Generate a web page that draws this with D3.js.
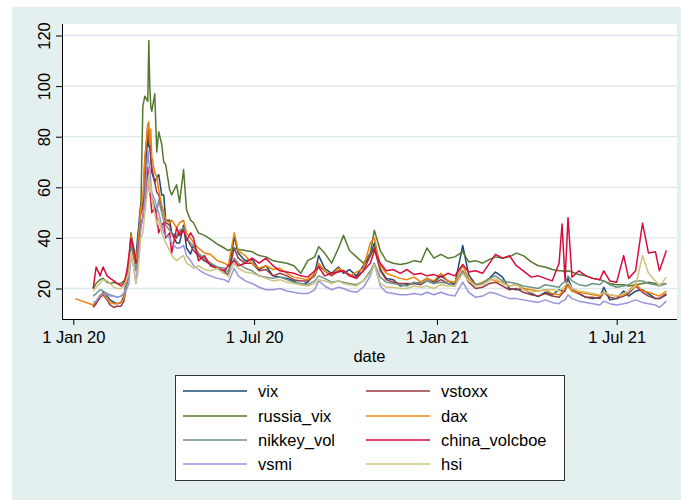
<!DOCTYPE html>
<html>
<head>
<meta charset="utf-8">
<script src="https://cdn.jsdelivr.net/npm/d3@7"></script>
<style>
  html, body { margin: 0; padding: 0; background: #fff; }
  svg { display: block; font-family: "Liberation Sans", Arial, Helvetica, sans-serif; }
</style>
</head>
<body>
<svg id="chart" width="681" height="500"></svg>
<script>
// Observation dates (daily implied volatility indices)
const dates = [
  "2020-01-03",
  "2020-01-21","2020-01-24","2020-01-28","2020-01-31","2020-02-04","2020-02-07","2020-02-11","2020-02-14","2020-02-18","2020-02-21",
  "2020-02-24","2020-02-26","2020-02-28","2020-03-02","2020-03-04","2020-03-06","2020-03-09","2020-03-11","2020-03-13","2020-03-16",
  "2020-03-17","2020-03-18","2020-03-19","2020-03-20","2020-03-23","2020-03-25","2020-03-27","2020-03-30","2020-04-01","2020-04-03",
  "2020-04-07","2020-04-09","2020-04-14","2020-04-17","2020-04-21","2020-04-24","2020-04-28","2020-05-01",
  "2020-05-06","2020-05-12","2020-05-18","2020-05-25","2020-06-01","2020-06-05","2020-06-11","2020-06-15","2020-06-22","2020-06-29",
  "2020-07-06","2020-07-13","2020-07-20","2020-07-27","2020-08-03","2020-08-10","2020-08-17","2020-08-24","2020-08-31","2020-09-04",
  "2020-09-10","2020-09-17","2020-09-24","2020-09-29","2020-10-05","2020-10-12","2020-10-19","2020-10-26","2020-10-30","2020-11-05",
  "2020-11-11","2020-11-18","2020-11-25","2020-12-02","2020-12-09","2020-12-16","2020-12-22","2020-12-29","2021-01-05","2021-01-12",
  "2021-01-19","2021-01-27","2021-02-02","2021-02-09","2021-02-16","2021-02-23","2021-03-01","2021-03-08","2021-03-15","2021-03-22",
  "2021-03-29","2021-04-06","2021-04-13","2021-04-20","2021-04-27","2021-05-04","2021-05-07","2021-05-10","2021-05-13","2021-05-17",
  "2021-05-24","2021-05-31","2021-06-07","2021-06-14","2021-06-18","2021-06-24","2021-07-01","2021-07-08","2021-07-13","2021-07-20",
  "2021-07-27","2021-08-02","2021-08-09","2021-08-13","2021-08-20"
];

const vix = [
  null,
  13, 14.5, 16.5, 18.5, 17, 15.5, 14.5, 14, 14.5, 17,
  25, 27.5, 40, 33, 32, 41, 54, 53, 58, 82, 76, 76, 72, 66, 62, 64, 65, 57, 57, 47, 47, 42, 38, 38, 45, 36, 33.6, 37,
  33, 31, 29.5, 28, 27, 25, 40.5, 34, 31, 31.5, 27.5, 29, 25, 24.5, 24, 23, 21.5, 22.5, 26, 33,
  28, 26, 28.5, 26, 27.5, 25, 29, 33, 38, 27.5, 24, 23.5, 21, 21.5, 22, 22.5, 24, 22.5, 25, 23,
  21.5, 37, 25.5, 21.5, 22, 24, 26.5, 24.5, 20, 19.5, 20, 18, 16.8, 18.5, 17.5, 19.5, 19, 19.5, 24, 20,
  18, 16.5, 16, 16.5, 20.5, 15.5, 16, 19, 17, 19, 19.5, 18, 16, 16, 17.5
];

const vstoxx = [
  null,
  12.5, 14, 16.5, 17.5, 15.5, 13.5, 12.5, 13, 13, 15,
  22, 26, 38, 32, 30, 38, 50, 52, 70, 85, 78, 80, 72, 68, 62, 58, 57, 52, 50, 46, 45, 42, 40, 42, 44, 40, 37, 35,
  33, 31, 30, 28, 26, 25.5, 36, 32, 30, 30, 27, 27.5, 25, 26, 25, 23.5, 23, 23, 25, 29,
  27, 25, 27, 27, 25.5, 24.5, 27, 33, 36, 27, 23.5, 22.5, 22, 22, 22, 21.5, 23, 22, 23.5, 22,
  21, 27, 22.5, 20, 20.5, 22, 22.5, 21, 19.5, 20, 18.5, 17.5, 17, 18, 17, 16.5, 18, 19, 22, 19,
  18, 16.5, 16.5, 16, 18.5, 16.5, 16, 17, 18, 21, 18.5, 17, 16, 16, 18
];

const russia_vix = [
  null,
  20, 22, 23.5, 24, 22.5, 22, 22.5, 22, 22, 23,
  24, 30, 42, 36, 30, 38, 52, 92, 96, 94, 118, 100, 92, 90, 97, 74, 82, 77, 70, 69, 59, 57, 61, 54, 67, 51, 47, 46,
  42, 41, 39.5, 37.5, 36, 35, 36, 35.5, 35, 34.5, 33, 32.5, 31, 30.5, 30, 29, 26, 31, 32.5, 36.5,
  34, 30, 36, 41, 35, 32.5, 30, 34, 43, 35, 31, 30, 29.5, 30, 31, 30.5, 36, 32, 33.5, 32,
  32.5, 34.5, 30.5, 31, 30, 31.5, 32.5, 32, 32.5, 34, 33, 30.5, 29, 28.5, 27.5, 27, 27, 26.5, 27, 26.5,
  25.5, 25, 24, 23.5, 23, 22, 21.5, 21.5, 21, 21.5, 22, 22.5, 22, 21.5, 22
];

const dax = [
  16,
  13.5, 15, 17.5, 18, 16, 14.5, 14, 14, 14.5, 16,
  25, 28, 41, 33, 30, 36, 52, 56, 72, 84, 86, 77, 83, 72, 66, 64, 59, 53, 50, 47, 46, 47, 44, 46, 47, 42, 40, 38,
  36, 34, 33.5, 31, 30, 29, 42, 35, 33, 30, 28, 29, 27.5, 28, 26, 24.5, 24, 23.5, 25.5, 30,
  27, 25.5, 28, 27, 25, 26.5, 28, 38, 40, 29, 26, 25, 24, 23.5, 24.5, 22.5, 24, 23, 26, 23,
  22.5, 29, 24, 21.5, 22.5, 24, 23, 22.5, 21, 21.5, 20, 19.5, 19, 19.5, 18, 17.5, 18.5, 20, 21, 19,
  18.5, 18, 17.5, 17, 18.5, 17.5, 17, 17.5, 19, 22, 19, 18.5, 17.5, 17, 19
];

const nikkey_vol = [
  null,
  17, 18, 19.5, 19, 18, 17.5, 17, 16.5, 17, 18,
  22, 25, 38, 33, 27, 32, 45, 48, 55, 60, 62, 60, 58, 56, 52, 50, 55, 50, 47, 45, 43, 42, 41, 43, 44, 40, 38, 37,
  34, 32, 30, 28.5, 28, 26.5, 32, 30, 28, 27, 25, 24.5, 24, 24.5, 23.5, 22.5, 22, 21.5, 23, 25,
  24, 22.5, 23, 22.5, 22, 21.5, 23, 27, 30, 24.5, 22.5, 22, 21.5, 21, 22.5, 22, 23, 22, 22.5, 22,
  21, 27, 23, 21.5, 22, 24, 25, 23, 22.5, 22, 21, 20.5, 20, 21.5, 21, 20.5, 22, 22.5, 25, 23,
  21.5, 21, 22, 21.5, 23, 21.5, 20.5, 21, 21.5, 23, 23, 22, 21.5, 21, 22
];

const china_volcboe = [
  null,
  20, 28.5, 25, 28.5, 25, 24, 23, 22, 21, 22,
  27, 33, 40, 35, 30, 32, 45, 48, 55, 68, 60, 58, 55, 50, 52, 48, 42, 45, 46, 40, 42, 34, 44, 41, 43, 39, 42, 40,
  31, 33, 29, 28, 27, 29, 31, 29, 30, 32, 30, 32, 29, 27, 26.5, 26, 25, 24.5, 27, 28.5,
  25, 26, 26.5, 27, 25, 24, 27, 30, 35, 30, 27, 27.5, 26, 27.5, 25.5, 26, 25, 25.5, 24.5, 26,
  25, 29.5, 26.5, 27, 26, 30, 33.5, 32, 33, 29, 27, 24.5, 25, 24, 23, 30, 45.5, 23, 48, 24.5,
  27, 25, 24, 23.5, 27, 23, 22.5, 33, 24, 27, 45.8, 34, 34.5, 27, 35
];

const vsmi = [
  null,
  14.5, 15, 17, 18, 17.5, 17, 17, 16.5, 17, 18,
  20, 22, 33, 28, 22, 30, 44, 48, 55, 75, 70, 68, 62, 58, 55, 52, 50, 45, 42, 41, 40, 38, 36, 36, 37, 33, 31, 29,
  27.5, 26, 25, 24, 23.5, 22.5, 28, 25, 23, 22, 20.5, 19.5, 19.5, 20, 19, 18.5, 18, 18, 19.5, 23,
  21, 19.5, 20.5, 20, 19, 18.5, 20.5, 25, 30, 21, 18.5, 18, 17.5, 17.5, 18, 17.5, 18.5, 17.5, 18.5, 17.5,
  17, 22.5, 18.5, 16.5, 17, 18.5, 18, 17, 16, 16, 15.5, 15, 14.5, 15.5, 14.5, 14, 15, 15.5, 17.5, 16,
  15, 14.5, 14, 13.5, 15, 14, 13.5, 14, 14.5, 15.5, 14.5, 14, 13.5, 12.5, 15
];

const hsi = [
  null,
  19, 20.5, 22, 23.5, 23, 22, 20.5, 20, 20, 21,
  24, 26, 34, 28, 22, 26, 40, 42, 50, 60, 65, 58, 62, 55, 50, 45, 48, 42, 40, 38, 35, 33, 31, 32, 33, 30, 29, 28,
  29, 27.5, 27, 28, 26, 25, 30, 28, 26.5, 26, 25, 24, 23, 23.5, 22.5, 22, 21.5, 21, 22, 23.5,
  23, 22, 23, 22, 21.5, 21, 23, 26, 29.5, 22, 20.5, 20.5, 20, 20, 21, 20.5, 21, 20, 21.5, 21,
  21, 26, 23, 21, 21.5, 23, 24, 22, 21, 21.5, 19.5, 18.5, 19, 19.5, 19.5, 19, 20, 21, 22.5, 20,
  19, 18.5, 18, 17.5, 18.5, 17.5, 17, 18, 19, 21, 33, 26, 23, 21, 24.5
];

const seriesNames  = ["vix", "vstoxx", "russia_vix", "dax", "nikkey_vol", "china_volcboe", "vsmi", "hsi"];
const seriesValues = [vix, vstoxx, russia_vix, dax, nikkey_vol, china_volcboe, vsmi, hsi];
const seriesColors = ["#1a4a73", "#9a3a40", "#55782f", "#f0820a", "#6e938a", "#d80c3c", "#9a92dc", "#cfc47e"];

const yTicks = [20, 40, 60, 80, 100, 120];
const xTicks = ["2020-01-01", "2020-07-01", "2021-01-01", "2021-07-01"];
const xTitle = "date";

// ---- layout ----
const W = 681, H = 500;
const plot = { left: 62, top: 24, right: 677, bottom: 319 };
const FONT = "'Liberation Sans', Arial, Helvetica, sans-serif";

const svg = d3.select("#chart");
svg.append("rect").attr("width", W).attr("height", H).attr("fill", "#ffffff");
svg.append("rect").attr("x", 12).attr("y", 7).attr("width", W - 12).attr("height", H - 7).attr("fill", "#e4eff0");
svg.append("rect")
  .attr("x", plot.left).attr("y", plot.top)
  .attr("width", plot.right - plot.left).attr("height", plot.bottom - plot.top)
  .attr("fill", "#ffffff");

const parse = d3.utcParse("%Y-%m-%d");
const x = d3.scaleUtc().domain([parse("2020-01-01"), parse("2021-07-01")]).range([73.3, 616.7]);
const y = d3.scaleLinear().domain([20, 120]).range([288.5, 35.5]);

// gridlines
svg.append("g").selectAll("line").data(yTicks).join("line")
  .attr("x1", plot.left).attr("x2", plot.right)
  .attr("y1", d => y(d)).attr("y2", d => y(d))
  .attr("stroke", "#dce8ea").attr("stroke-width", 1.3);

// series
const parsedDates = dates.map(parse);
svg.append("clipPath").attr("id", "plotclip").append("rect")
  .attr("x", plot.left).attr("y", plot.top)
  .attr("width", plot.right - plot.left).attr("height", plot.bottom - plot.top);

const line = d3.line()
  .defined(d => d.v != null)
  .x(d => x(d.t))
  .y(d => y(d.v));

const gSeries = svg.append("g").attr("clip-path", "url(#plotclip)");
seriesValues.forEach((vals, i) => {
  const pts = vals.map((v, j) => ({ t: parsedDates[j], v }));
  gSeries.append("path")
    .datum(pts)
    .attr("d", line)
    .attr("fill", "none")
    .attr("stroke", seriesColors[i])
    .attr("stroke-width", 1.5)
    .attr("stroke-linejoin", "round");
});

// y axis
const yAxis = svg.append("g")
  .attr("transform", `translate(${plot.left},0)`)
  .call(d3.axisLeft(y).tickValues(yTicks).tickSize(6));
yAxis.attr("font-family", FONT);
yAxis.select(".domain").remove();
yAxis.selectAll(".tick line").attr("stroke", "#000");
yAxis.selectAll(".tick text")
  .attr("transform", "rotate(-90)")
  .attr("x", 0).attr("y", -12).attr("dy", 0)
  .attr("text-anchor", "middle")
  .attr("font-size", 16.5)
  .attr("fill", "#000");

// x axis
const xAxis = svg.append("g")
  .attr("transform", `translate(0,${plot.bottom})`)
  .call(d3.axisBottom(x).tickValues(xTicks.map(parse)).tickSize(6).tickFormat(d3.utcFormat("%-d %b %y")));
xAxis.attr("font-family", FONT);
xAxis.select(".domain").remove();
xAxis.selectAll(".tick line").attr("stroke", "#000");
xAxis.selectAll(".tick text")
  .attr("y", 24).attr("dy", 0)
  .attr("font-size", 16.5)
  .attr("fill", "#000");

// axis lines
svg.append("line").attr("x1", plot.left + 0.5).attr("x2", plot.left + 0.5)
  .attr("y1", plot.top).attr("y2", plot.bottom + 0.5).attr("stroke", "#000");
svg.append("line").attr("x1", plot.left).attr("x2", plot.right)
  .attr("y1", plot.bottom + 0.5).attr("y2", plot.bottom + 0.5).attr("stroke", "#000");

// axis title
svg.append("text")
  .attr("x", (plot.left + plot.right) / 2).attr("y", 362)
  .attr("text-anchor", "middle")
  .attr("font-family", FONT).attr("font-size", 16.5)
  .text(xTitle);

// legend
const legend = svg.append("g");
legend.append("rect")
  .attr("x", 175.5).attr("y", 375.5).attr("width", 389).attr("height", 105)
  .attr("fill", "#fff").attr("stroke", "#333").attr("stroke-width", 1);
const rowY = [391, 416, 440, 464];
const colX = [183, 366];
seriesNames.forEach((name, i) => {
  const cx = colX[i % 2], cy = rowY[Math.floor(i / 2)];
  legend.append("line")
    .attr("x1", cx).attr("x2", cx + 64)
    .attr("y1", cy).attr("y2", cy)
    .attr("stroke", seriesColors[i]).attr("stroke-width", 1.6);
  legend.append("text")
    .attr("x", cx + 75).attr("y", cy + 6)
    .attr("font-family", FONT).attr("font-size", 16.5)
    .attr("fill", "#000")
    .text(name);
});
</script>
</body>
</html>
